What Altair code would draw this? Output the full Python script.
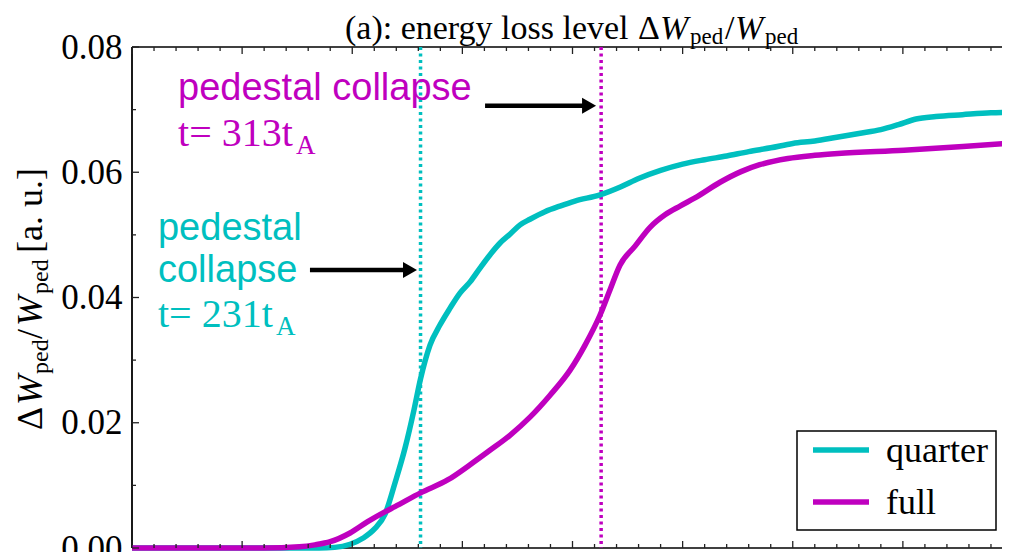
import altair as alt
import pandas as pd

# ---------------- data ----------------
t_quarter = [100, 150, 185, 192, 199, 205, 210, 215, 219.5, 224, 228, 231, 235.3, 239.8,
             244.4, 248.9, 253.5, 258, 262.5, 267.1, 271.6, 276.2, 280.7, 287.5, 294.3,
             301.1, 312.5, 322, 330, 340, 350, 360, 370, 380, 390, 400, 410, 420, 430,
             440, 448, 456, 465, 477, 490, 500]
v_quarter = [0, 0, 0, 0.0001, 0.0006, 0.0016, 0.003, 0.0055, 0.0105, 0.016, 0.022, 0.027,
             0.0324, 0.0356, 0.0383, 0.0407, 0.0425, 0.0447, 0.0468, 0.0487, 0.0501, 0.0516,
             0.0525, 0.0537, 0.0546, 0.0554, 0.0564, 0.0577, 0.059, 0.0603, 0.0613, 0.062,
             0.0626, 0.0633, 0.0639, 0.0646, 0.065, 0.0656, 0.0662, 0.0668, 0.0676, 0.0685,
             0.0689, 0.0692, 0.0695, 0.0696]

t_full = [100, 160, 176, 183, 190, 199, 207, 215, 219.4, 231, 243.5, 253.5, 262.5, 271.6,
          280.7, 289.8, 298.9, 305.7, 312.5, 317, 321.6, 328.4, 335.2, 342, 348.8, 355.6,
          367, 376.5, 385, 397.8, 410, 420.5, 450.5, 477.3, 500]
v_full = [0, 0, 0.0002, 0.0005, 0.001, 0.0024, 0.0042, 0.0058, 0.0066, 0.0088, 0.0109,
          0.0133, 0.0156, 0.018, 0.0209, 0.0244, 0.0284, 0.0324, 0.0372, 0.0412, 0.0452,
          0.0482, 0.0512, 0.0532, 0.0546, 0.0559, 0.0584, 0.0601, 0.0612, 0.0622, 0.0627,
          0.063, 0.0635, 0.0641, 0.0647]

series_names = ["quarter", "full"]
series_colors = ["#00BFBF", "#BF00BF"]

collapse_t = [231, 313]
collapse_label = ["231", "313"]

arrow_tail_t = [180.8, 260.3]
arrow_tip_t = [229.4, 310.7]
arrow_v = [0.0444, 0.0706]

x_domain = [100, 500]          # full axis range; the picture is cropped at the right
y_domain = [0, 0.08]
y_major = [0.0, 0.02, 0.04, 0.06, 0.08]
y_minor = [0.01, 0.03, 0.05, 0.07]
x_major = [100, 150, 200, 250, 300, 350, 400, 450, 500]
x_minor = [110, 120, 130, 140, 160, 170, 180, 190, 210, 220, 230, 240, 260, 270, 280, 290,
           310, 320, 330, 340, 360, 370, 380, 390, 410, 420, 430, 440, 460, 470, 480, 490]

# ---------------- layout / style ----------------
FULL_W = 881                      # width the full axis range would take
W, H = 870, 501                   # visible plot area (cropped at the page edge)
px_per_t = FULL_W / (x_domain[1] - x_domain[0])
x_visible = [x_domain[0], x_domain[0] + W / px_per_t]
SERIF = "Liberation Serif"
SANS = "Liberation Sans"
FRAME = "black"

xs = alt.Scale(domain=x_visible, nice=False, zero=False)
ys = alt.Scale(domain=y_domain, nice=False, zero=False)
y_axis = alt.Axis(values=y_major, format=".2f", labelFont=SERIF, labelFontSize=35,
                  labelColor="black", labelPadding=10, ticks=False, domain=False,
                  grid=False, title=None, labelFlush=False, labelOverlap=False)
cscale = alt.Scale(domain=series_names, range=series_colors)


def X(f):
    return alt.X(f, type="quantitative", scale=xs, axis=None)


def Y(f):
    return alt.Y(f, type="quantitative", scale=ys, axis=y_axis)


one = pd.DataFrame({"k": [0]})

# frame (left, top, bottom; the right side lies outside the cropped picture)
frame = [
    alt.Chart(one).mark_rule(color=FRAME, strokeWidth=1.8).encode(
        x=alt.value(0), y=alt.value(0), y2=alt.value(H)),
    alt.Chart(one).mark_rule(color=FRAME, strokeWidth=1.6).encode(
        x=alt.value(0), x2=alt.value(W), y=alt.value(0)),
    alt.Chart(one).mark_rule(color=FRAME, strokeWidth=1.6).encode(
        x=alt.value(0), x2=alt.value(W), y=alt.value(H)),
]

# collapse markers (dotted)
df_col = pd.DataFrame({"t": collapse_t, "series": series_names})
collapse_rules = alt.Chart(df_col).mark_rule(strokeDash=[3, 3.5], strokeWidth=3.5).encode(
    x=X("t"), color=alt.Color("series:N", scale=cscale, legend=None))

# curves
df_q = pd.DataFrame({"t": t_quarter, "v": v_quarter, "series": series_names[0]})
df_f = pd.DataFrame({"t": t_full, "v": v_full, "series": series_names[1]})
line_q = alt.Chart(df_q).mark_line(strokeWidth=5.5, interpolate="monotone").encode(
    x=X("t"), y=Y("v"), color=alt.Color("series:N", scale=cscale, legend=None))
line_f = alt.Chart(df_f).mark_line(strokeWidth=5.5, interpolate="monotone").encode(
    x=X("t"), y=Y("v"), color=alt.Color("series:N", scale=cscale, legend=None))

# arrows
df_ar = pd.DataFrame({"tail": arrow_tail_t, "tip": arrow_tip_t, "v": arrow_v})
df_ar["shaft_end"] = df_ar["tip"] - 7 / px_per_t
shafts = alt.Chart(df_ar).mark_rule(strokeWidth=4.5, color="black").encode(
    x=X("tail"), x2="shaft_end", y=Y("v"))
heads = alt.Chart(df_ar).mark_point(shape="M-1.75,-1L0,0L-1.75,1Z", filled=True, size=256,
                                    color="black", opacity=1, strokeWidth=0).encode(
    x=X("tip"), y=Y("v"))

# annotation texts (data coordinates)
df_sans = pd.DataFrame({
    "t": [120.9, 111.8, 111.8],
    "v": [0.0715, 0.0492, 0.0425],
    "txt": ["pedestal collapse", "pedestal", "collapse"],
    "series": ["full", "quarter", "quarter"],
})
sans_txt = alt.Chart(df_sans).mark_text(align="left", baseline="alphabetic", font=SANS,
                                        fontSize=38).encode(
    x=X("t"), y=Y("v"), text="txt:N", color=alt.Color("series:N", scale=cscale, legend=None))

df_tt = pd.DataFrame({
    "t": [120.9, 111.8],
    "v": [0.0642, 0.0353],
    "txt": ["t= " + collapse_label[1] + "t", "t= " + collapse_label[0] + "t"],
    "series": ["full", "quarter"],
})
t_txt = alt.Chart(df_tt).mark_text(align="left", baseline="alphabetic", font=SERIF,
                                   fontSize=40).encode(
    x=X("t"), y=Y("v"), text="txt:N", color=alt.Color("series:N", scale=cscale, legend=None))

df_sub = pd.DataFrame({"t": [174.5, 165.4], "v": [0.0629, 0.0340], "txt": ["A", "A"],
                       "series": ["full", "quarter"]})
sub_txt = alt.Chart(df_sub).mark_text(align="left", baseline="alphabetic", font=SERIF,
                                      fontSize=27).encode(
    x=X("t"), y=Y("v"), text="txt:N", color=alt.Color("series:N", scale=cscale, legend=None))


# inward tick marks (left, top, bottom)
def hticks(vals, length):
    d = pd.DataFrame({"v": vals})
    return alt.Chart(d).mark_rule(strokeWidth=1.3, color="#222").encode(
        y=Y("v"), x=alt.value(0), x2=alt.value(length))


def vticks(vals, length, side):
    d = pd.DataFrame({"t": [v for v in vals if v <= x_visible[1]]})
    if side == "top":
        ye = dict(y=alt.value(0), y2=alt.value(length))
    else:
        ye = dict(y=alt.value(H), y2=alt.value(H - length))
    return alt.Chart(d).mark_rule(strokeWidth=1.3, color="#222").encode(x=X("t"), **ye)


ticks = [hticks(y_major, 7), hticks(y_minor, 4),
         vticks(x_major, 7, "top"), vticks(x_minor, 4, "top"),
         vticks(x_major, 7, "bottom"), vticks(x_minor, 4, "bottom")]


def piece(text, x, y, size, style="normal", angle=0, color="black"):
    return alt.Chart(pd.DataFrame({"s": [text]})).mark_text(
        align="left", baseline="alphabetic", font=SERIF, fontSize=size, fontStyle=style,
        angle=angle, color=color).encode(x=alt.value(x), y=alt.value(y), text="s:N")


# title: (a): energy loss level ΔW_ped/W_ped   (plot-relative pixel layout)
title = [
    piece("(a): energy loss level", 213, -8.5, 34),
    piece("\u0394", 506, -8.5, 34),
    piece("W", 528, -8.5, 34, "italic"),
    piece("ped", 558, -3, 23),
    piece("/", 593, -8.5, 34),
    piece("W", 603, -8.5, 34, "italic"),
    piece("ped", 633, -3, 23),
]

# y title: ΔW_ped/W_ped [a. u.]  (rotated)
yt = [
    piece("\u0394", -90, 383, 36, angle=270),
    piece("W", -90, 358, 36, "italic", angle=270),
    piece("ped", -84, 327, 24, angle=270),
    piece("/", -90, 292, 36, angle=270),
    piece("W", -90, 279, 36, "italic", angle=270),
    piece("ped", -84, 247, 24, angle=270),
    piece("[a. u.]", -90, 206, 36, angle=270),
]

# legend
legend_box = alt.Chart(one).mark_rect(fill="white", stroke="black", strokeWidth=1.5).encode(
    x=alt.value(665), x2=alt.value(864), y=alt.value(384), y2=alt.value(483))
legend_items = []
for i, (name, col) in enumerate(zip(series_names, series_colors)):
    yy = 403 + 52 * i
    legend_items.append(alt.Chart(one).mark_rule(strokeWidth=5.5, color=col).encode(
        x=alt.value(681), x2=alt.value(737), y=alt.value(yy)))
    legend_items.append(piece(name, 754, yy + 12, 36))

chart = alt.layer(
    *frame, collapse_rules, line_q, line_f, shafts, heads, sans_txt, t_txt, sub_txt,
    *ticks, *title, *yt, legend_box, *legend_items
).properties(
    width=W, height=H,
    padding={"left": 124, "top": 39, "right": 0, "bottom": 4},
    autosize=alt.AutoSizeParams(type="none"),
).configure_view(stroke=None)

chart.save("out.html", embed_options={"renderer": "svg", "actions": False})
